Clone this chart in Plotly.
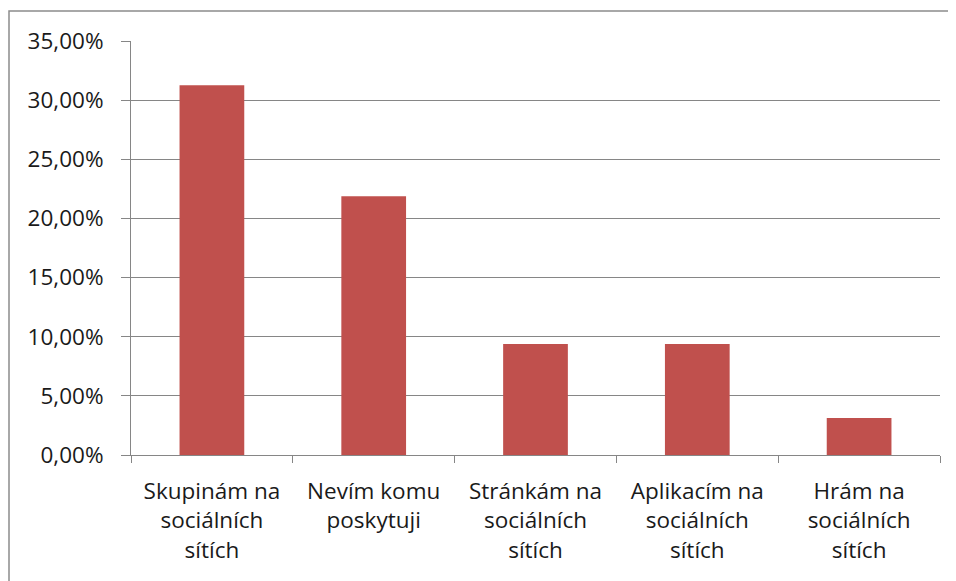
import plotly.graph_objects as go

categories = ["Skupinám na<br>sociálních<br>sítích", "Nevím komu<br>poskytuji", "Stránkám na<br>sociálních<br>sítích", "Aplikacím na<br>sociálních<br>sítích", "Hrám na<br>sociálních<br>sítích"]
values = [0.3125, 0.21875, 0.09375, 0.09375, 0.03125]
y_ticks = [0, 0.05, 0.10, 0.15, 0.20, 0.25, 0.30, 0.35]
y_tick_labels = ["0,00%", "5,00%", "10,00%", "15,00%", "20,00%", "25,00%", "30,00%", "35,00%"]

W, H = 956, 581
off = 8  # page body offset
ml, mr, mt, mb = 131 - off, 16 + off, 41 - off, 126 + off
pw, ph = W - ml - mr, H - mt - mb

fig = go.Figure(go.Bar(x=categories, y=values, marker=dict(color="#C0504D", line=dict(width=0)), width=0.4))

grid = "#868686"
fig.update_layout(
    width=W, height=H,
    margin=dict(l=ml, r=mr, t=mt, b=mb),
    paper_bgcolor="white", plot_bgcolor="white",
    font=dict(family="Open Sans", size=22, color="#1a1a1a"),
    showlegend=False,
    bargap=0.6,
    xaxis=dict(showline=True, linecolor=grid, linewidth=1, ticks="outside", ticklen=7, tickcolor=grid,
               tickson="boundaries", showgrid=False, tickfont=dict(size=22.5), ticklabelstandoff=16),
    yaxis=dict(range=[0, 0.35], tickvals=y_ticks, ticktext=y_tick_labels, showline=True, linecolor=grid,
               linewidth=1, ticks="outside", ticklen=9, tickcolor=grid, showgrid=True, gridcolor=grid,
               gridwidth=1, zeroline=False, tickfont=dict(size=22.5), ticklabelstandoff=13),
    shapes=[dict(type="rect", xref="paper", yref="paper",
                 x0=(9 - off - ml) / pw, x1=(W + 5 - ml) / pw,
                 y0=-(H + 5 - mt - ph) / ph, y1=(H - mb - 11 + off) / ph,
                 line=dict(color="#8c8c8c", width=1.5), fillcolor="rgba(0,0,0,0)", layer="below")],
)

fig.write_html("out.html")
